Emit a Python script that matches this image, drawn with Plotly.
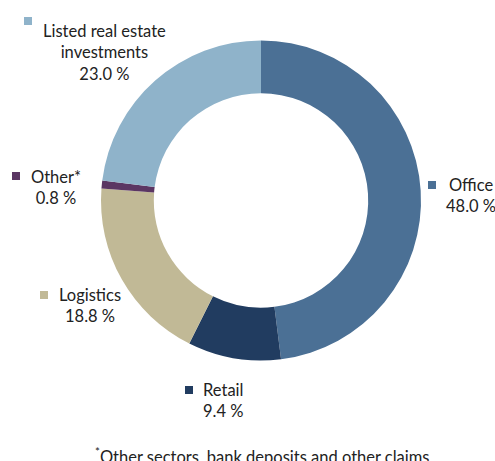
import plotly.graph_objects as go

sectors = ["Office", "Retail", "Logistics", "Other*", "Listed real estate<br>investments"]
shares = [48.0, 9.4, 18.8, 0.8, 23.0]
colors = ["#4b7095", "#213c60", "#c1b996", "#5b3663", "#8fb3ca"]

W, H = 495, 461

def px(x):
    return x / W

def py(y):
    return 1 - y / H

fig = go.Figure()
fig.add_trace(go.Pie(
    labels=sectors, values=shares, hole=0.67, sort=False, direction="clockwise",
    rotation=0, marker=dict(colors=colors, line=dict(width=0)),
    textinfo="none", hoverinfo="label+percent", showlegend=False,
    domain=dict(x=[px(101), px(421)], y=[py(360.5), py(40.5)]),
))

# label block centres (px) and marker squares (left, top) per slice
label_pos = [(471, 195), (223, 400), (90, 305), (56, 187), (104.5, 52)]
square_pos = [(428, 181), (185, 386), (40, 291), (12, 172), (24, 17)]

for name, val, col, (lx, ly), (sx, sy) in zip(sectors, shares, colors, label_pos, square_pos):
    fig.add_annotation(
        x=px(lx), y=py(ly), xref="paper", yref="paper", showarrow=False,
        text=f"{name}<br>{val:.1f} %", align="center",
        xanchor="center", yanchor="middle",
        font=dict(family="Lato", size=16.5, color="#222222"),
    )
    fig.add_shape(
        type="rect", xref="paper", yref="paper",
        x0=px(sx), x1=px(sx + 8), y0=py(sy + 8), y1=py(sy),
        fillcolor=col, line=dict(width=0),
    )

fig.add_annotation(
    x=px(262), y=py(456), xref="paper", yref="paper", showarrow=False,
    text="<sup>*</sup>Other sectors, bank deposits and other claims",
    xanchor="center", yanchor="middle",
    font=dict(family="Lato", size=16.5, color="#222222"),
)

fig.update_layout(
    width=W, height=H, margin=dict(l=0, r=0, t=0, b=0),
    paper_bgcolor="white", plot_bgcolor="white",
)
fig.write_html("out.html", config={"displayModeBar": False},
               post_script="document.body.style.margin='0';")
